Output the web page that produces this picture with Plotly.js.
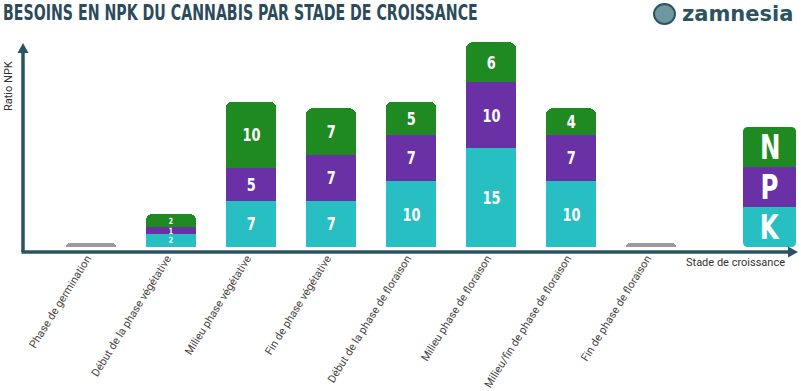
<!DOCTYPE html>
<html>
<head>
<meta charset="utf-8">
<script src="https://cdn.plot.ly/plotly-3.0.1.min.js"></script>
<style>html,body{margin:0;padding:0;background:#fff;}#chart{width:801px;height:391px;}</style>
</head>
<body>
<div id="chart"></div>
<script>
// ---- data ----
const stages = [
  'Phase de germination',
  'Début de la phase végétative',
  'Milieu phase végétative',
  'Fin de phase végétative',
  'Début de la phase de floraison',
  'Milieu phase de floraison',
  'Milieu/fin de phase de floraison',
  'Fin de phase de floraison'
];
const kValues = [0, 2, 7, 7, 10, 15, 10, 0];
const pValues = [0, 1, 5, 7, 7, 10, 7, 0];
const nValues = [0, 2, 10, 7, 5, 6, 4, 0];
const legendLetters = ['N', 'P', 'K'];

// ---- style ----
const GREEN = '#1f8a22', PURPLE = '#6a30a6', TEAL = '#27bfc2', GRAY = '#9b9b9b', AXIS = '#2b5361';
const W = 801, H = 391, L = 23, R = 56, T = 30, B = 139;
const pw = W - L - R, ph = H - T - B;
const PXU = 6.6; // pixels per unit on y
const px2x = p => (p - L) / pw;
const py2y = p => (H - B - p) / ph;

const totals = kValues.map((k, i) => k + pValues[i] + nValues[i]);
const zeroMark = totals.map(t => t === 0 ? 0.55 : null);

function barTrace(vals, color, name) {
  return {
    type: 'bar', x: stages, y: vals, name: name,
    marker: {color: color, line: {width: 0}},
    width: 0.625, hoverinfo: 'skip', cliponaxis: false
  };
}
const traces = [
  barTrace(kValues, TEAL, 'K'),
  barTrace(pValues, PURPLE, 'P'),
  barTrace(nValues, GREEN, 'N'),
  {type: 'bar', x: stages, y: zeroMark, marker: {color: GRAY}, width: 0.625, hoverinfo: 'skip', name: 'zero'}
];

// ---- segment labels (from the data) ----
const annotations = [];
const series = [kValues, pValues, nValues];
stages.forEach((s, i) => {
  let base = 0;
  series.forEach(arr => {
    const v = arr[i];
    if (v) {
      const small = v * PXU < 18;
      annotations.push({
        text: String(v), xref: 'x', yref: 'y', x: s, y: base + v / 2,
        xanchor: 'center', yanchor: 'middle', showarrow: false,
        font: {family: 'DejaVu Sans, sans-serif', size: small ? 8.5 : 18, color: '#ffffff', weight: 700}
      });
    }
    base += v;
  });
});

// legend block (decorative)
const lx0 = px2x(743), lx1 = px2x(796), rx = 5 / pw, ry = 5 / ph;
const yK0 = py2y(247), yK1 = py2y(207), yP1 = py2y(167), yN1 = py2y(127);
const legendY = [(yP1 + yN1) / 2, (yK1 + yP1) / 2, (yK0 + yK1) / 2];
legendLetters.forEach((l, i) => annotations.push({
  text: l, xref: 'paper', yref: 'paper', x: (lx0 + lx1) / 2, y: legendY[i],
  xanchor: 'center', yanchor: 'middle', showarrow: false,
  font: {family: 'DejaVu Sans, sans-serif', size: 34, color: '#ffffff', weight: 700}
}));
const nCondensed = annotations.length;

annotations.push(
  {text: 'Ratio NPK', xref: 'paper', yref: 'paper', x: px2x(8), y: py2y(86), textangle: -90,
   xanchor: 'center', yanchor: 'middle', showarrow: false,
   font: {family: 'Roboto, sans-serif', size: 11, color: '#333'}},
  {text: 'Stade de croissance', xref: 'paper', yref: 'paper', x: px2x(735), y: py2y(262),
   xanchor: 'center', yanchor: 'middle', showarrow: false,
   font: {family: 'Roboto, sans-serif', size: 11, color: '#333'}},
  {text: 'zamnesia', xref: 'paper', yref: 'paper', x: px2x(680), y: py2y(14), xanchor: 'left', yanchor: 'middle', showarrow: false,
   font: {family: 'DejaVu Sans, sans-serif', size: 21, color: AXIS, weight: 700}}
);

const P = (x, y) => `${px2x(x)},${py2y(y)}`;
const shapes = [
  {type: 'path', xref: 'paper', yref: 'paper', line: {width: 0}, fillcolor: GREEN,
   path: `M ${lx0},${yP1} L ${lx0},${yN1 - ry} Q ${lx0},${yN1} ${lx0 + rx},${yN1} L ${lx1 - rx},${yN1} Q ${lx1},${yN1} ${lx1},${yN1 - ry} L ${lx1},${yP1} Z`},
  {type: 'rect', xref: 'paper', yref: 'paper', line: {width: 0}, fillcolor: PURPLE, x0: lx0, x1: lx1, y0: yK1, y1: yP1},
  {type: 'path', xref: 'paper', yref: 'paper', line: {width: 0}, fillcolor: TEAL,
   path: `M ${lx0},${yK1} L ${lx0},${yK0 + ry} Q ${lx0},${yK0} ${lx0 + rx},${yK0} L ${lx1 - rx},${yK0} Q ${lx1},${yK0} ${lx1},${yK0 + ry} L ${lx1},${yK1} Z`},
  // axes
  {type: 'path', xref: 'paper', yref: 'paper', line: {width: 3.5, color: AXIS}, path: `M ${P(23, 252)} L ${P(23, 50)}`},
  {type: 'path', xref: 'paper', yref: 'paper', line: {width: 0}, fillcolor: AXIS, path: `M ${P(23, 43)} L ${P(17.5, 53)} L ${P(28.5, 53)} Z`},
  {type: 'path', xref: 'paper', yref: 'paper', line: {width: 3.5, color: AXIS}, path: `M ${P(21.5, 252)} L ${P(790, 252)}`},
  {type: 'path', xref: 'paper', yref: 'paper', line: {width: 0}, fillcolor: AXIS, path: `M ${P(798, 252)} L ${P(788, 246.5)} L ${P(788, 257.5)} Z`},
  // logo icon
  {type: 'circle', xref: 'paper', yref: 'paper', line: {width: 2, color: AXIS}, fillcolor: '#6f96a1',
   x0: px2x(654), x1: px2x(675), y0: py2y(24), y1: py2y(4)}
];

const layout = {
  width: W, height: H,
  margin: {l: L, r: R, t: T, b: B, pad: 0},
  paper_bgcolor: '#fff', plot_bgcolor: '#fff',
  barmode: 'stack', barcornerradius: 6, showlegend: false,
  title: {text: 'BESOINS EN NPK DU CANNABIS PAR STADE DE CROISSANCE', x: 3 / W, xanchor: 'left', y: 1 - 12.5 / H, yanchor: 'middle',
          font: {family: 'DejaVu Sans, sans-serif', size: 21, color: '#2c4b5a', weight: 700}},
  xaxis: {type: 'category', range: [-0.85, 8.175], showline: false, showgrid: false, zeroline: false,
          tickangle: -58, ticks: '', ticklabelshift: -4, ticklabelstandoff: -3,
          tickfont: {family: 'Roboto, sans-serif', size: 11, color: '#444'}, automargin: false},
  yaxis: {range: [-5 / PXU, (ph - 5) / PXU], showline: false, showgrid: false, zeroline: false, showticklabels: false, ticks: ''},
  shapes: shapes, annotations: annotations
};

Plotly.newPlot('chart', traces, layout, {displayModeBar: false, staticPlot: true}).then(() => {
  // condensed look for title, segment labels and legend letters
  const title = document.querySelector('.gtitle');
  if (title) {
    const bb = title.getBBox();
    const k = 475 / bb.width;
    title.style.transformOrigin = bb.x + 'px 0px';
    title.style.transform = 'scaleX(' + k + ')';
  }
  document.querySelectorAll('g.annotation').forEach((g, i) => {
    if (i < nCondensed) {
      const t = g.querySelector('text');
      if (t) {
        t.style.transformBox = 'fill-box';
        t.style.transformOrigin = 'center';
        t.style.transform = 'scaleX(0.72)';
      }
    }
  });
});
</script>
</body>
</html>
